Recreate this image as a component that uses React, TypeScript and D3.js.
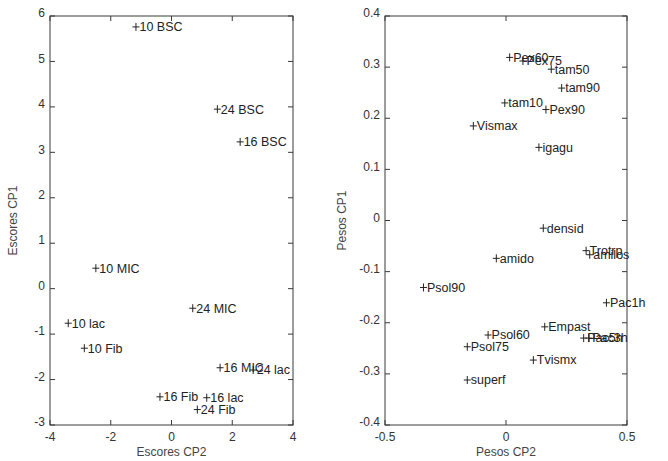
import React from "react";
import * as d3 from "d3";

const scoreLabels = ["10 BSC", "24 BSC", "16 BSC", "10 MIC", "24 MIC", "10 lac", "10 Fib", "16 MIC", "24 lac", "16 Fib", "16 lac", "24 Fib"];
const scoreCP2 = [-1.17, 1.51, 2.26, -2.49, 0.70, -3.40, -2.87, 1.60, 2.69, -0.38, 1.16, 0.85];
const scoreCP1 = [5.76, 3.95, 3.23, 0.45, -0.43, -0.76, -1.31, -1.74, -1.79, -2.38, -2.40, -2.66];

const loadLabels = ["Pex60", "Pex75", "tam50", "tam90", "tam10", "Pex90", "Vismax", "igagu", "densid", "amido", "Trotrp", "amilos", "Psol90", "Pac1h", "Empast", "Psol60", "Pac5h", "Pac3h", "Psol75", "Tvismx", "superf"];
const loadCP2 = [0.015, 0.070, 0.187, 0.230, -0.005, 0.165, -0.135, 0.136, 0.154, -0.040, 0.331, 0.346, -0.341, 0.415, 0.160, -0.074, 0.321, 0.342, -0.160, 0.113, -0.160];
const loadCP1 = [0.319, 0.312, 0.296, 0.259, 0.230, 0.217, 0.185, 0.143, -0.015, -0.074, -0.059, -0.067, -0.131, -0.161, -0.208, -0.224, -0.230, -0.230, -0.247, -0.273, -0.312];

const scoreXTicks = [-4, -2, 0, 2, 4];
const scoreYTicks = [-3, -2, -1, 0, 1, 2, 3, 4, 5, 6];
const loadXTicks = [-0.5, 0, 0.5];
const loadYTicks = [-0.4, -0.3, -0.2, -0.1, 0, 0.1, 0.2, 0.3, 0.4];

const FONT = "'Liberation Sans', Arial, Helvetica, sans-serif";
const TOP = 16;
const BOTTOM = 425;

type PanelProps = {
  x0: number; x1: number;
  xDomain: [number, number]; yDomain: [number, number];
  xTicks: number[]; yTicks: number[];
  labels: string[]; xs: number[]; ys: number[];
  xTitle: string; yTitle: string; yTitleX: number;
  fmt: (v: number) => string;
};

function Panel(p: PanelProps) {
  const x = d3.scaleLinear().domain(p.xDomain).range([p.x0, p.x1]);
  const y = d3.scaleLinear().domain(p.yDomain).range([BOTTOM, TOP]);
  const tl = 5;
  const axisColor = "#3a3a3a";
  const m = 3.5;
  return (
    <g fontFamily={FONT}>
      <rect x={p.x0} y={TOP} width={p.x1 - p.x0} height={BOTTOM - TOP} fill="none" stroke={axisColor} strokeWidth={1} />
      {p.xTicks.map((t) => (
        <g key={"xt" + t}>
          <line x1={x(t)} x2={x(t)} y1={BOTTOM} y2={BOTTOM - tl} stroke={axisColor} />
          <line x1={x(t)} x2={x(t)} y1={TOP} y2={TOP + tl} stroke={axisColor} />
          <text x={x(t)} y={438} textAnchor="middle" dominantBaseline="middle" fontSize={12} fill="#333">{p.fmt(t)}</text>
        </g>
      ))}
      {p.yTicks.map((t) => (
        <g key={"yt" + t}>
          <line x1={p.x0} x2={p.x0 + tl} y1={y(t)} y2={y(t)} stroke={axisColor} />
          <line x1={p.x1} x2={p.x1 - tl} y1={y(t)} y2={y(t)} stroke={axisColor} />
          <text x={p.x0 - 5} y={y(t) - 2} textAnchor="end" dominantBaseline="middle" fontSize={12} fill="#333">{p.fmt(t)}</text>
        </g>
      ))}
      <text x={(p.x0 + p.x1) / 2} y={453} textAnchor="middle" dominantBaseline="middle" fontSize={12} fill="#444">{p.xTitle}</text>
      <text transform={`translate(${p.yTitleX},${(TOP + BOTTOM) / 2}) rotate(-90)`} textAnchor="middle" dominantBaseline="middle" fontSize={12} fill="#444">{p.yTitle}</text>
      {p.labels.map((l, i) => {
        const px = x(p.xs[i]);
        const py = y(p.ys[i]);
        return (
          <g key={l + i}>
            <path d={`M${px - m},${py}H${px + m}M${px},${py - m - 0.5}V${py + m + 0.5}`} stroke="#222" strokeWidth={1} fill="none" />
            <text x={px + 3.5} y={py} dy="0.35em" fontSize={12.5} fill="#222">{l}</text>
          </g>
        );
      })}
    </g>
  );
}

export default function App() {
  return (
    <svg width={668} height={461} style={{ position: "absolute", left: 0, top: 0, background: "#fff" }}>
      <rect width={668} height={461} fill="#fff" />
      <Panel x0={50} x1={293} xDomain={[-4, 4]} yDomain={[-3, 6]}
        xTicks={scoreXTicks} yTicks={scoreYTicks}
        labels={scoreLabels} xs={scoreCP2} ys={scoreCP1}
        xTitle="Escores CP2" yTitle="Escores CP1" yTitleX={14}
        fmt={(v) => String(v)} />
      <Panel x0={385} x1={627} xDomain={[-0.5, 0.5]} yDomain={[-0.4, 0.4]}
        xTicks={loadXTicks} yTicks={loadYTicks}
        labels={loadLabels} xs={loadCP2} ys={loadCP1}
        xTitle="Pesos CP2" yTitle="Pesos CP1" yTitleX={343}
        fmt={(v) => String(Math.round(v * 10) / 10)} />
    </svg>
  );
}
